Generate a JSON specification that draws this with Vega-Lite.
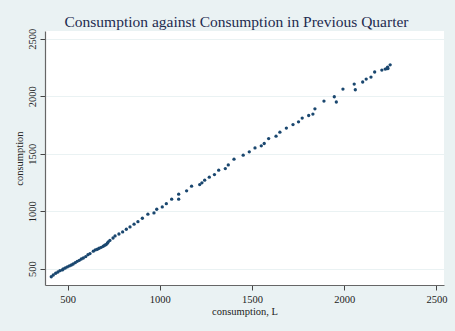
{
  "$schema": "https://vega.github.io/schema/vega-lite/v6.json",
  "width": 399,
  "height": 254,
  "autosize": "none",
  "padding": {"left": 45, "top": 31, "right": 11, "bottom": 46},
  "background": "#EAF2F3",
  "view": {"fill": "white", "stroke": null},
  "title": {
    "text": "Consumption against Consumption in Previous Quarter",
    "font": "Liberation Serif",
    "fontSize": 15.5,
    "fontWeight": "normal",
    "color": "#1E2B4F",
    "anchor": "middle",
    "baseline": "alphabetic",
    "offset": -14,
    "dx": -8
  },
  "data": {
    "values": [
      {"lag": 411, "c": 430}, {"lag": 422, "c": 445}, {"lag": 435, "c": 460}, {"lag": 447, "c": 471},
      {"lag": 458, "c": 483}, {"lag": 471, "c": 489}, {"lag": 476, "c": 497}, {"lag": 487, "c": 506},
      {"lag": 498, "c": 515}, {"lag": 509, "c": 524}, {"lag": 520, "c": 532}, {"lag": 530, "c": 541},
      {"lag": 541, "c": 552}, {"lag": 552, "c": 564}, {"lag": 563, "c": 573}, {"lag": 574, "c": 584},
      {"lag": 585, "c": 593}, {"lag": 598, "c": 605}, {"lag": 610, "c": 622}, {"lag": 621, "c": 631},
      {"lag": 639, "c": 652}, {"lag": 650, "c": 663}, {"lag": 661, "c": 669}, {"lag": 671, "c": 678},
      {"lag": 682, "c": 686}, {"lag": 693, "c": 695}, {"lag": 701, "c": 704}, {"lag": 708, "c": 709},
      {"lag": 715, "c": 721}, {"lag": 720, "c": 733}, {"lag": 729, "c": 746}, {"lag": 746, "c": 767},
      {"lag": 757, "c": 785}, {"lag": 778, "c": 802}, {"lag": 798, "c": 820}, {"lag": 818, "c": 843},
      {"lag": 838, "c": 863}, {"lag": 860, "c": 887}, {"lag": 881, "c": 909}, {"lag": 905, "c": 939},
      {"lag": 935, "c": 974}, {"lag": 968, "c": 985}, {"lag": 983, "c": 1017}, {"lag": 1013, "c": 1037},
      {"lag": 1035, "c": 1066}, {"lag": 1064, "c": 1105}, {"lag": 1102, "c": 1105}, {"lag": 1102, "c": 1148},
      {"lag": 1145, "c": 1177}, {"lag": 1172, "c": 1218}, {"lag": 1216, "c": 1232}, {"lag": 1228, "c": 1247},
      {"lag": 1243, "c": 1270}, {"lag": 1268, "c": 1296}, {"lag": 1296, "c": 1319}, {"lag": 1319, "c": 1357},
      {"lag": 1355, "c": 1371}, {"lag": 1371, "c": 1403}, {"lag": 1402, "c": 1453}, {"lag": 1452, "c": 1488},
      {"lag": 1485, "c": 1517}, {"lag": 1516, "c": 1551}, {"lag": 1550, "c": 1569}, {"lag": 1566, "c": 1589},
      {"lag": 1590, "c": 1632}, {"lag": 1630, "c": 1653}, {"lag": 1651, "c": 1688}, {"lag": 1686, "c": 1723},
      {"lag": 1722, "c": 1754}, {"lag": 1752, "c": 1778}, {"lag": 1772, "c": 1810}, {"lag": 1807, "c": 1833},
      {"lag": 1830, "c": 1845}, {"lag": 1841, "c": 1891}, {"lag": 1890, "c": 1958}, {"lag": 1946, "c": 1996},
      {"lag": 1957, "c": 1950}, {"lag": 1993, "c": 2063}, {"lag": 2054, "c": 2106}, {"lag": 2060, "c": 2057},
      {"lag": 2100, "c": 2124}, {"lag": 2119, "c": 2150}, {"lag": 2145, "c": 2167}, {"lag": 2165, "c": 2211},
      {"lag": 2204, "c": 2228}, {"lag": 2222, "c": 2237}, {"lag": 2230, "c": 2240}, {"lag": 2235, "c": 2254},
      {"lag": 2237, "c": 2242}, {"lag": 2249, "c": 2274}
    ]
  },
  "mark": {"type": "circle", "size": 11, "color": "#1A476F", "opacity": 1},
  "encoding": {
    "x": {
      "field": "lag",
      "type": "quantitative",
      "scale": {"domain": [377, 2541], "nice": false, "zero": false},
      "axis": {
        "title": "consumption, L",
        "values": [500, 1000, 1500, 2000, 2500],
        "format": "d",
        "grid": false,
        "domainColor": "#666666",
        "domainWidth": 1.2,
        "tickColor": "#444444",
        "tickSize": 5,
        "labelFont": "Liberation Serif",
        "labelFontSize": 10.5,
        "labelColor": "#222222",
        "labelPadding": 4,
        "titleFont": "Liberation Serif",
        "titleFontSize": 10.5,
        "titleFontWeight": "normal",
        "titleColor": "#222222",
        "titlePadding": 2
      }
    },
    "y": {
      "field": "c",
      "type": "quantitative",
      "scale": {"domain": [358, 2568], "nice": false, "zero": false},
      "axis": {
        "title": "consumption",
        "values": [500, 1000, 1500, 2000, 2500],
        "format": "d",
        "grid": true,
        "gridColor": "#EAF2F3",
        "gridWidth": 1.2,
        "domainColor": "#666666",
        "domainWidth": 1.2,
        "tickColor": "#444444",
        "tickSize": 5,
        "labelAngle": 270,
        "labelAlign": "center",
        "labelBaseline": "bottom",
        "labelFont": "Liberation Serif",
        "labelFontSize": 10.5,
        "labelColor": "#222222",
        "labelPadding": 3,
        "titleFont": "Liberation Serif",
        "titleFontSize": 10.5,
        "titleFontWeight": "normal",
        "titleColor": "#222222",
        "titlePadding": 3
      }
    }
  }
}
